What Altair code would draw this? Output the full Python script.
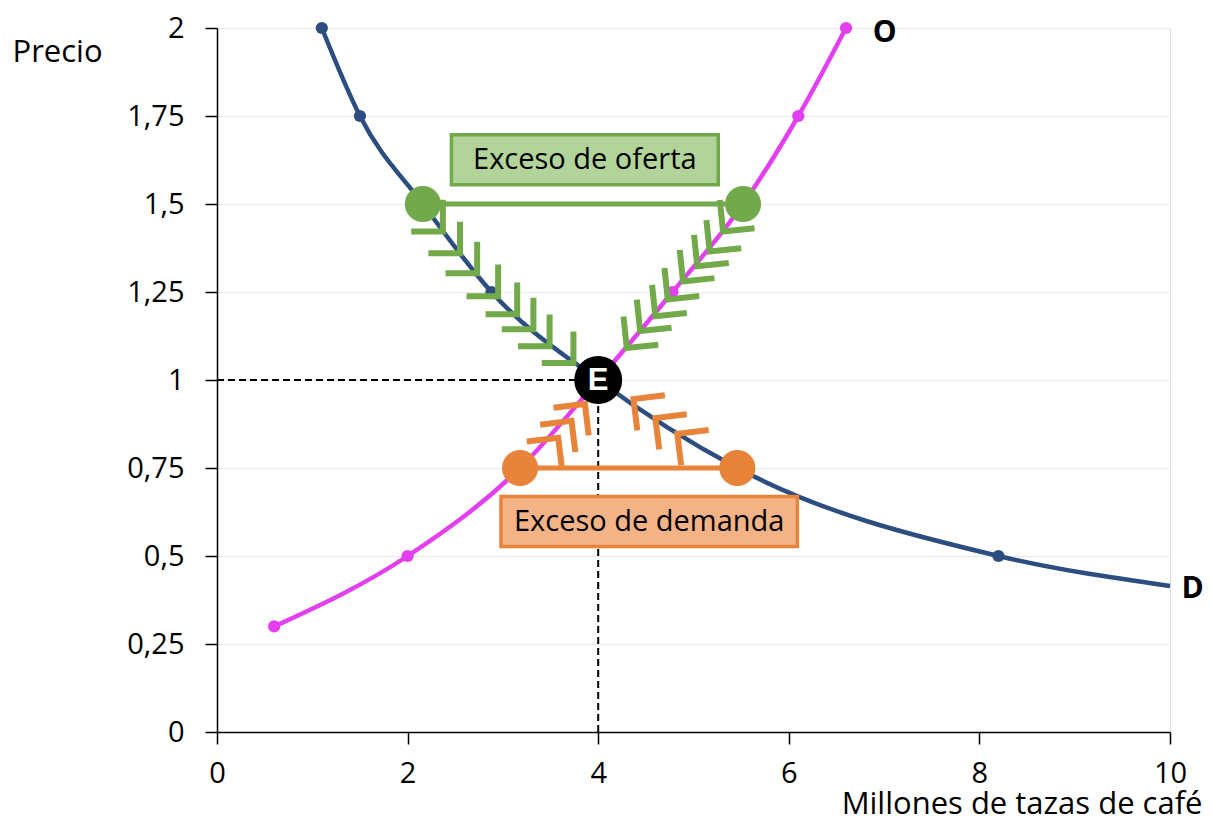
import altair as alt
import pandas as pd

# ---------------- data ----------------
demand_q = [1.1, 1.5, 2.16, 2.88, 4.0, 5.46, 8.2, 10.0]
demand_p = [2.0, 1.75, 1.5, 1.25, 1.0, 0.75, 0.5, 0.415]
demand_dot = [True, True, True, True, True, True, True, False]

supply_q = [0.6, 2.0, 3.18, 4.0, 4.78, 5.52, 6.1, 6.6]
supply_p = [0.3, 0.5, 0.75, 1.0, 1.25, 1.5, 1.75, 2.0]

eq_q, eq_p = 4.0, 1.0

# excess of supply (price 1.5) and excess of demand (price 0.75)
exo_p, exo_q1, exo_q2 = 1.5, 2.16, 5.52
exd_p, exd_q1, exd_q2 = 0.75, 3.18, 5.46

# chevrons (tip positions) along the curves
chev_gd_q = [2.37, 2.55, 2.73, 2.95, 3.15, 3.32, 3.49, 3.74]
chev_gd_p = [1.422, 1.360, 1.303, 1.238, 1.187, 1.144, 1.096, 1.048]
chev_gs_q = [5.31, 5.17, 5.04, 4.89, 4.73, 4.60, 4.44, 4.30]
chev_gs_p = [1.422, 1.365, 1.323, 1.280, 1.229, 1.181, 1.139, 1.091]
chev_os_q = [3.86, 3.72, 3.58]
chev_os_p = [0.932, 0.884, 0.836]
chev_od_q = [4.37, 4.60, 4.83]
chev_od_p = [0.946, 0.892, 0.847]

# label boxes
box_labels = ["Exceso de oferta", "Exceso de demanda"]
box_q1 = [2.46, 2.98]
box_q2 = [5.26, 6.09]
box_p1 = [1.697, 0.669]
box_p2 = [1.555, 0.527]

x_ticks = [0, 2, 4, 6, 8, 10]
y_ticks = [0, 0.25, 0.5, 0.75, 1.0, 1.25, 1.5, 1.75, 2.0]

# ---------------- styles ----------------
BLUE = "#2C4D7F"
MAGENTA = "#E33FF0"
GREEN = "#72A94A"
GREEN_FILL = "#B2D49A"
ORANGE = "#E8843A"
ORANGE_FILL = "#F3B386"
FONT = "Open Sans"
CHEV = "M -1 -1 L 0 0 L -1 1"

sx = alt.Scale(domain=[0, 10], nice=False, zero=False)
sy = alt.Scale(domain=[0, 2], nice=False, zero=False)

ax_x = alt.Axis(values=x_ticks, title="Millones de tazas de café", grid=False,
                labelFontSize=29, labelColor="black", labelFont=FONT, labelFlush=False,
                labelPadding=15, tickSize=12, tickColor="black", tickWidth=1.5,
                domainColor="black", domainWidth=1.5,
                titleFontSize=31, titleFontWeight="normal", titleColor="black",
                titleFont=FONT, titleAlign="right", titleBaseline="middle",
                titleX=985, titleY=72)
ax_y = alt.Axis(values=y_ticks, title="Precio", grid=True, gridColor="#E9E9E9",
                gridWidth=1,
                labelExpr="replace(toString(datum.value), '.', ',')",
                labelFontSize=29, labelColor="black", labelFont=FONT,
                labelPadding=21, tickSize=12, tickColor="black", tickWidth=1.5,
                domainColor="black", domainWidth=1.5,
                titleFontSize=31, titleFontWeight="normal", titleColor="black",
                titleFont=FONT, titleAngle=0, titleAlign="left",
                titleBaseline="middle", titleX=-205, titleY=24)


def X(f="q", t="Q"):
    return alt.X(f"{f}:{t}", scale=sx, axis=ax_x)


def Y(f="p", t="Q"):
    return alt.Y(f"{f}:{t}", scale=sy, axis=ax_y)


dem = pd.DataFrame({"q": demand_q, "p": demand_p, "dot": demand_dot})
sup = pd.DataFrame({"q": supply_q, "p": supply_p})

# dashed guides to equilibrium
guide_h = pd.DataFrame({"q": [0.0], "q2": [eq_q], "p": [eq_p]})
guide_v = pd.DataFrame({"q": [eq_q], "p": [0.0], "p2": [eq_p]})
l_gh = alt.Chart(guide_h).mark_rule(color="black", strokeWidth=2, strokeDash=[7, 4]).encode(
    x=X(), x2="q2:Q", y=Y())
l_gv = alt.Chart(guide_v).mark_rule(color="black", strokeWidth=2, strokeDash=[7, 4]).encode(
    x=X(), y=Y(), y2="p2:Q")

l_dem = alt.Chart(dem).mark_line(color=BLUE, strokeWidth=4.5, interpolate="monotone").encode(
    x=X(), y=Y(), order="q:Q")
l_sup = alt.Chart(sup).mark_line(color=MAGENTA, strokeWidth=4.5, interpolate="monotone").encode(
    x=X(), y=Y(), order="q:Q")
l_dem_pts = alt.Chart(dem).transform_filter("datum.dot").mark_circle(
    color=BLUE, size=150, opacity=1).encode(x=X(), y=Y())
l_sup_pts = alt.Chart(sup).mark_circle(color=MAGENTA, size=150, opacity=1).encode(x=X(), y=Y())


def chevrons(qs, ps, ang, color):
    df = pd.DataFrame({"q": qs, "p": ps, "a": [ang] * len(qs)})
    return alt.Chart(df).mark_point(shape=CHEV, filled=False, strokeWidth=6, size=2000,
                                    opacity=1, color=color, strokeCap="butt",
                                    strokeJoin="miter").encode(
        x=X(), y=Y(), angle=alt.Angle("a:Q", scale=None))


l_c1 = chevrons(chev_gd_q, chev_gd_p, 45, GREEN)
l_c2 = chevrons(chev_gs_q, chev_gs_p, 129, GREEN)
l_c3 = chevrons(chev_os_q, chev_os_p, 308, ORANGE)
l_c4 = chevrons(chev_od_q, chev_od_p, 218, ORANGE)

exo = pd.DataFrame({"q": [exo_q1], "q2": [exo_q2], "p": [exo_p]})
exd = pd.DataFrame({"q": [exd_q1], "q2": [exd_q2], "p": [exd_p]})
l_exo = alt.Chart(exo).mark_rule(color=GREEN, strokeWidth=5).encode(x=X(), x2="q2:Q", y=Y())
l_exd = alt.Chart(exd).mark_rule(color=ORANGE, strokeWidth=5).encode(x=X(), x2="q2:Q", y=Y())

exo_pts = pd.DataFrame({"q": [exo_q1, exo_q2], "p": [exo_p, exo_p]})
exd_pts = pd.DataFrame({"q": [exd_q1, exd_q2], "p": [exd_p, exd_p]})
l_exo_pts = alt.Chart(exo_pts).mark_circle(color=GREEN, size=1300, opacity=1).encode(x=X(), y=Y())
l_exd_pts = alt.Chart(exd_pts).mark_circle(color=ORANGE, size=1300, opacity=1).encode(x=X(), y=Y())

boxes = pd.DataFrame({"label": box_labels, "q": box_q1, "q2": box_q2, "p": box_p1, "p2": box_p2,
                      "fill": [GREEN_FILL, ORANGE_FILL], "stroke": [GREEN, ORANGE]})
boxes["qm"] = (boxes["q"] + boxes["q2"]) / 2
boxes["pm"] = (boxes["p"] + boxes["p2"]) / 2
l_box = alt.Chart(boxes).mark_rect(strokeWidth=3.5).encode(
    x=X(), x2="q2:Q", y=Y(), y2="p2:Q",
    fill=alt.Fill("fill:N", scale=None), stroke=alt.Stroke("stroke:N", scale=None))
l_box_txt = alt.Chart(boxes).mark_text(font=FONT, fontSize=29, color="black",
                                       baseline="middle", align="center").encode(
    x=X("qm"), y=Y("pm"), text="label:N")

eq = pd.DataFrame({"q": [eq_q], "p": [eq_p], "t": ["E"]})
l_eq = alt.Chart(eq).mark_circle(color="black", size=2300, opacity=1).encode(x=X(), y=Y())
l_eq_txt = alt.Chart(eq).mark_text(font="Liberation Sans", fontWeight="bold", fontSize=31,
                                   color="white", baseline="middle", align="center", dy=1).encode(
    x=X(), y=Y(), text="t:N")

curve_labels = pd.DataFrame({"q": [6.88, 10.12], "p": [1.985, 0.405], "t": ["O", "D"]})
l_clab = alt.Chart(curve_labels).mark_text(font=FONT, fontWeight="bold", fontSize=30,
                                           color="black", baseline="middle", align="left").encode(
    x=X(), y=Y(), text="t:N")

chart = alt.layer(
    l_gh, l_gv, l_dem, l_sup, l_dem_pts, l_sup_pts,
    l_c1, l_c2, l_c3, l_c4,
    l_exo, l_exd, l_box, l_box_txt, l_exo_pts, l_exd_pts,
    l_eq, l_eq_txt, l_clab,
).properties(
    width=953, height=704,
    autosize=alt.AutoSizeParams(type="none"),
    padding={"left": 209, "top": 20, "right": 34, "bottom": 92},
).configure_view(stroke=None).configure(font=FONT, background="white")

chart.save("out.html", embed_options={"renderer": "svg", "actions": False})
